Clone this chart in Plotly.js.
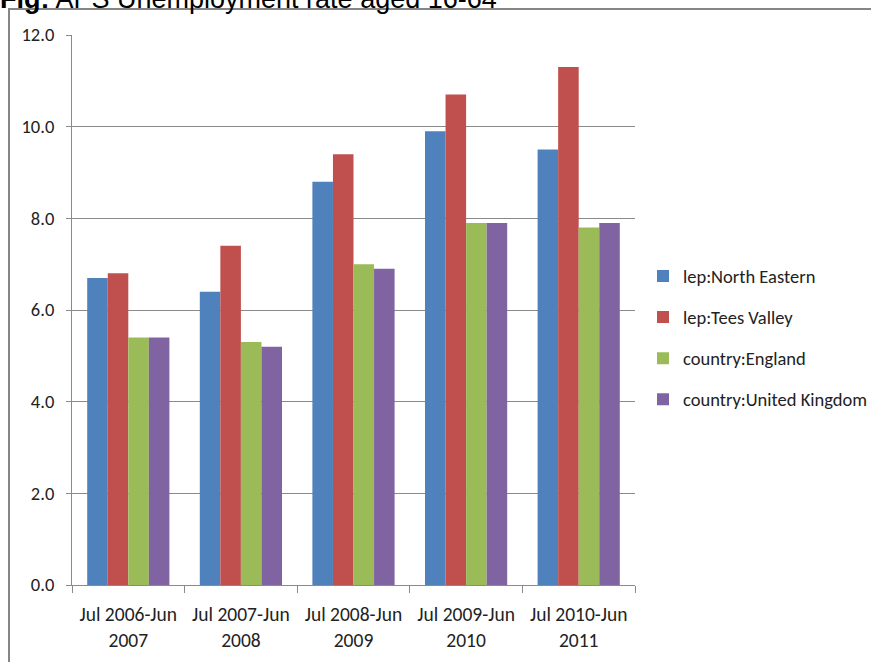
<!DOCTYPE html>
<html>
<head>
<meta charset="utf-8">
<script src="https://cdn.plot.ly/plotly-3.0.1.min.js"></script>
<style>html,body{margin:0;padding:0;background:#fff;}#chart{width:871px;height:662px;}</style>
</head>
<body>
<div id="chart"></div>
<script>
var categories = ["Jul 2006-Jun<br>2007", "Jul 2007-Jun<br>2008", "Jul 2008-Jun<br>2009", "Jul 2009-Jun<br>2010", "Jul 2010-Jun<br>2011"];
var seriesNames = ["lep:North Eastern", "lep:Tees Valley", "country:England", "country:United Kingdom"];
var northEastern = [6.7, 6.4, 8.8, 9.9, 9.5];
var teesValley = [6.8, 7.4, 9.4, 10.7, 11.3];
var england = [5.4, 5.3, 7.0, 7.9, 7.8];
var unitedKingdom = [5.4, 5.2, 6.9, 7.9, 7.9];
var colors = ["#4F81BD", "#C0504D", "#9BBB59", "#8064A2"];
var yTicks = [0, 2, 4, 6, 8, 10, 12];

var seriesValues = [northEastern, teesValley, england, unitedKingdom];
var font = "Carlito, 'Liberation Sans Narrow', 'DejaVu Sans Condensed', sans-serif";
var traces = seriesValues.map(function(vals, i) {
  return {
    type: "bar", x: categories, y: vals, name: seriesNames[i],
    legendgroup: "g" + i,
    marker: {color: colors[i], line: {width: 0}},
    hoverinfo: "y+name"
  };
});

var L = 72, R = 635, T = 35, B = 585;
var W = R - L, H = B - T;
function px(x) { return (x - L) / W; }
function py(y) { return (B - y) / H; }

var layout = {
  width: 871, height: 662,
  margin: {l: L, r: 871 - R, t: T, b: 662 - B, autoexpand: false},
  paper_bgcolor: "#fff", plot_bgcolor: "#fff",
  barmode: "group", bargap: 0.27, bargroupgap: 0,
  showlegend: true,
  legend: {
    x: px(643), y: py(338), xanchor: "left", yanchor: "middle",
    traceorder: "grouped", tracegroupgap: 14,
    font: {family: font, size: 18.5, color: "#222"},
    itemwidth: 30, bgcolor: "rgba(0,0,0,0)"
  },
  xaxis: {
    showgrid: false, showline: true, linecolor: "#8a8a8a", linewidth: 1,
    ticks: "outside", tickson: "boundaries", ticklen: 7, tickcolor: "#8a8a8a",
    ticklabelstandoff: 12,
    tickfont: {family: font, size: 19.5, color: "#222"}, zeroline: false
  },
  yaxis: {
    range: [0, 12], tickvals: yTicks, tickformat: ".1f",
    showgrid: true, gridcolor: "#8a8a8a", gridwidth: 1,
    showline: true, linecolor: "#8a8a8a", linewidth: 1,
    ticks: "outside", ticklen: 5, tickcolor: "#8a8a8a",
    ticklabelstandoff: 8,
    tickfont: {family: font, size: 18.5, color: "#222"}, zeroline: false
  },
  shapes: [{
    type: "rect", xref: "paper", yref: "paper",
    x0: px(9), x1: px(900), y0: py(700), y1: py(9),
    line: {color: "#868686", width: 2}, fillcolor: "rgba(0,0,0,0)", layer: "below"
  }],
  annotations: [{
    xref: "paper", yref: "paper", x: px(-2), y: py(16),
    xanchor: "left", yanchor: "bottom", showarrow: false,
    text: "<b>Fig:</b> APS Unemployment rate aged 16-64",
    font: {family: "'Liberation Sans', Arial, sans-serif", size: 27, color: "#000"}
  }]
};

Plotly.newPlot("chart", traces, layout, {displayModeBar: false, staticPlot: true});
</script>
</body>
</html>
